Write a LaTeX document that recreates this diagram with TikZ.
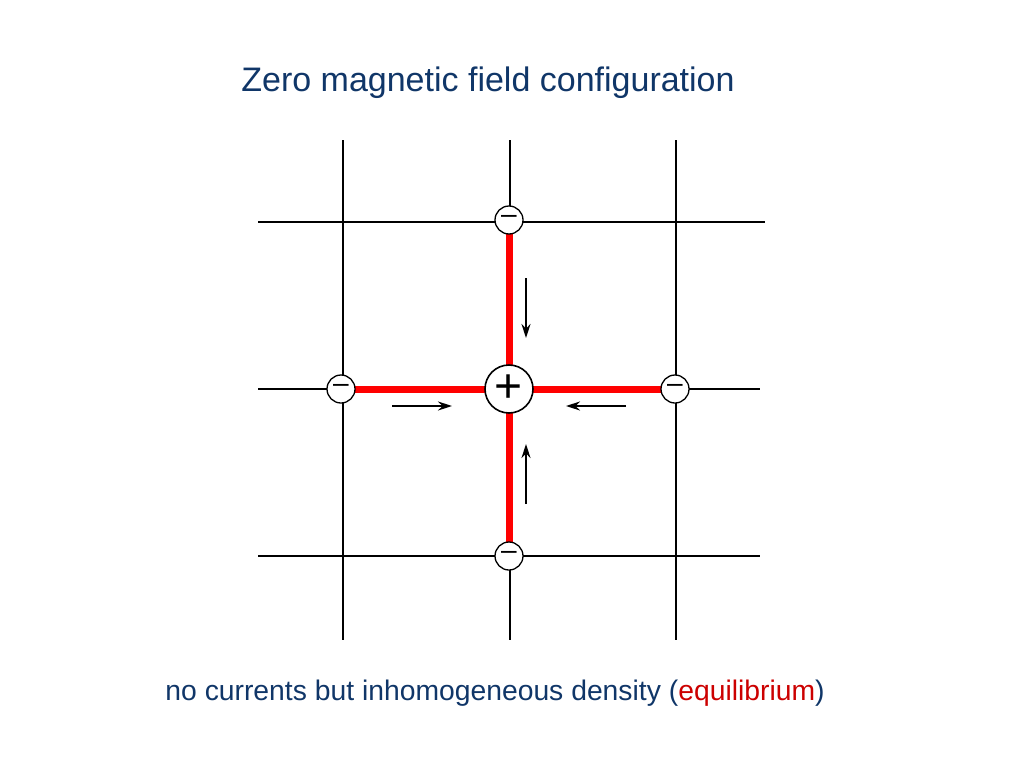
\documentclass[tikz,border=0pt]{standalone}
\usepackage{fontspec}
\usetikzlibrary{arrows.meta}
\setmainfont{Liberation Sans}
\definecolor{titleblue}{RGB}{16,54,104}
\definecolor{eqred}{RGB}{204,0,0}
\begin{document}
\begin{tikzpicture}[x=1pt,y=-1pt,
  grid/.style={line width=2.6pt,black},
  bond/.style={line width=7pt,red},
  minus/.style={circle,draw,line width=1.3pt,fill=white,minimum size=28pt,inner sep=0pt,font=\fontsize{28}{28}\selectfont},
  plus/.style={circle,draw,line width=1.6pt,fill=white,minimum size=48pt,inner sep=0pt,font=\fontsize{48}{48}\selectfont},
  flow/.style={line width=1.6pt,-{Stealth[length=14pt,width=9pt]}}]
\useasboundingbox (0,0) rectangle (1024,768);
\draw[grid] (343,140) -- (343,640);
\draw[grid] (510,140) -- (510,640);
\draw[grid] (676,140) -- (676,640);
\draw[grid] (258,222) -- (765,222);
\draw[grid] (258,389) -- (760,389);
\draw[grid] (258,556) -- (760,556);
\coordinate (ct) at (509,220);
\coordinate (cl) at (341,389);
\coordinate (cr) at (675,389);
\coordinate (cb) at (509,556);
\coordinate (cc) at (509,389);
\draw[bond] (ct) -- (cb);
\draw[bond] (cl) -- (cr);
\node[minus] (mt) at (ct) {\raisebox{1pt}{--}};
\node[minus] (ml) at (cl) {\raisebox{1pt}{--}};
\node[minus] (mr) at (cr) {\raisebox{1pt}{--}};
\node[minus] (mb) at (cb) {\raisebox{1pt}{--}};
\node[plus] (p) at (cc) {+};
\coordinate (a1s) at (526,278); \coordinate (a1e) at (526,338);
\coordinate (a2s) at (392,406); \coordinate (a2e) at (452,406);
\coordinate (a3s) at (626,406); \coordinate (a3e) at (566,406);
\coordinate (a4s) at (526,504); \coordinate (a4e) at (526,444);
\draw[flow] (a1s) -- (a1e);
\draw[flow] (a2s) -- (a2e);
\draw[flow] (a3s) -- (a3e);
\draw[flow] (a4s) -- (a4e);
\node[text=titleblue,font=\fontsize{34}{40}\selectfont] (title) at (488,83) {Zero magnetic field configuration};
\node[text=titleblue,font=\fontsize{28.3}{33}\selectfont] (caption) at (495,693) {no currents but inhomogeneous density (\textcolor{eqred}{equilibrium})};
\end{tikzpicture}
\end{document}
